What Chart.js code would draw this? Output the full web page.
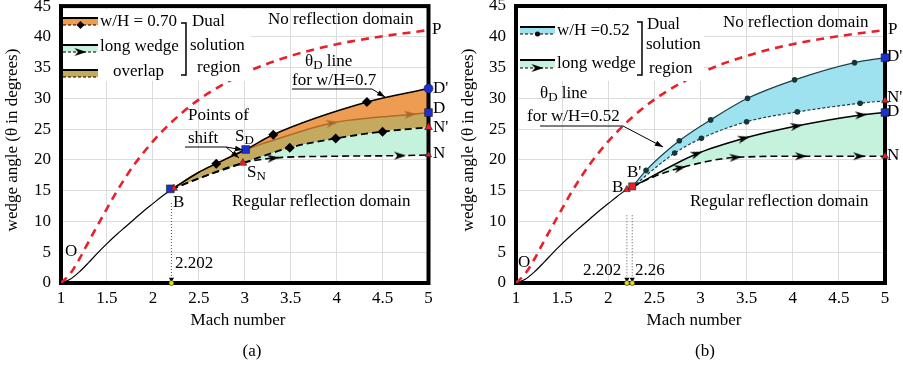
<!DOCTYPE html>
<html>
<head>
<meta charset="utf-8">
<script src="https://cdn.jsdelivr.net/npm/chart.js@4"></script>
<style>
  body { margin: 0; background: #fff; }
  #wrap { position: relative; width: 903px; height: 367px; }
  canvas { position: absolute; top: 0; }
</style>
</head>
<body>
<div id="wrap">
  <canvas id="chartA" width="451" height="367" style="left:0"></canvas>
  <canvas id="chartB" width="452" height="367" style="left:451px"></canvas>
</div>
<script>
// detachment line O-P and the O-B line, shared by both panels
const machDetach = [1.0, 1.1, 1.2, 1.3, 1.4, 1.5, 1.6, 1.7, 1.8, 2.0, 2.2, 2.5, 3.0, 3.5, 4.0, 4.5, 5.0];
const thetaDetach = [0, 1.5, 3.9, 6.7, 9.4, 12.1, 14.7, 17.1, 19.3, 23.0, 26.1, 29.8, 34.1, 36.9, 38.8, 40.1, 41.1];
const machSonic = [1.0, 1.1, 1.2, 1.3, 1.4, 1.5, 1.6, 1.7, 1.8, 1.9, 2.0, 2.1, 2.202];
const thetaSonic = [0, 0.6, 1.8, 3.3, 4.9, 6.4, 7.8, 9.1, 10.4, 11.7, 12.9, 14.1, 15.2];

// panel (a): w/H = 0.70 and long wedge
const machA_Dp = [2.202, 2.5, 2.69, 3.01, 3.31, 4.33, 5.0];
const thetaA_Dp = [15.2, 18.0, 19.4, 21.7, 24.1, 29.4, 31.6];
const machA_Np = [2.202, 2.5, 2.98, 3.49, 3.99, 4.5, 5.0];
const thetaA_Np = [15.2, 17.0, 19.5, 22.0, 23.5, 24.6, 25.3];
const machA_D = [2.202, 2.5, 2.69, 3.01, 3.31, 3.95, 4.5, 4.8, 5.0];
const thetaA_D = [15.2, 18.0, 19.4, 21.7, 23.2, 26.0, 27.0, 27.4, 27.7];
const machA_N = [2.202, 2.5, 2.98, 3.31, 4.0, 4.69, 5.0];
const thetaA_N = [15.2, 17.0, 19.5, 20.3, 20.6, 20.7, 20.8];
const marksA_mach = [2.19, 2.23, 3.01, 2.98, 5.0, 5.0, 5.0, 5.0, 2.202];
const marksA_theta = [15.3, 15.4, 21.7, 19.5, 31.6, 27.7, 25.3, 20.8, 0];
const dropA_theta = [13.0, 0.6];

// panel (b): w/H = 0.52 and long wedge
const machB_Dp = [2.26, 2.41, 2.77, 3.11, 3.51, 4.02, 4.67, 5.0];
const thetaB_Dp = [15.6, 18.3, 23.1, 26.5, 30.0, 33.0, 35.8, 36.6];
const machB_Np = [2.26, 2.72, 3.01, 3.5, 4.05, 4.73, 5.0];
const thetaB_Np = [15.6, 21.1, 23.5, 26.2, 27.8, 29.2, 29.6];
const machB_D = [2.26, 2.96, 3.47, 4.04, 4.74, 5.0];
const thetaB_D = [15.6, 21.0, 23.5, 25.5, 27.3, 27.7];
const machB_N = [2.26, 2.5, 2.78, 3.38, 4.09, 4.72, 5.0];
const thetaB_N = [15.6, 17.3, 18.7, 20.4, 20.6, 20.6, 20.6];
const machSonicB = machSonic.concat([2.26]);
const thetaSonicB = thetaSonic.concat([15.6]);
const marksB_mach = [2.202, 2.26, 5.0, 5.0, 5.0, 5.0, 2.202, 2.26];
const marksB_theta = [15.2, 15.7, 36.6, 29.6, 27.7, 20.6, 0, 0];
const dropB_theta = [11.0, 0.6];

const machTicks = [1, 1.5, 2, 2.5, 3, 3.5, 4, 4.5, 5];
const thetaTicks = [0, 5, 10, 15, 20, 25, 30, 35, 40, 45];

const serif = '"Liberation Serif", "Times New Roman", serif';
const RED = '#e8202a', BLUE = '#1b2fd6', YELLOW = '#e6dc1e';
const ORANGE = '#ee9c52', OLIVE = '#c3aa5e', GREEN = '#c4f2dd', CYAN = '#9de2ee';

function makeArrow(color) {
  const c = document.createElement('canvas');
  c.width = 14; c.height = 10;
  const g = c.getContext('2d');
  g.fillStyle = color;
  g.beginPath(); g.moveTo(1, 1); g.lineTo(13, 5); g.lineTo(1, 9); g.lineTo(4.5, 5); g.closePath(); g.fill();
  return c;
}
const arrowBlack = makeArrow('#000');
const arrowBrown = makeArrow('#a8682c');

function pts(xs, ys) { return xs.map((x, i) => ({ x: x, y: ys[i] })); }

function curve(xs, ys, opt) {
  return Object.assign({
    data: pts(xs, ys), borderColor: '#000', borderWidth: 1.5, fill: false,
    pointRadius: 0, pointBorderWidth: 0, pointBackgroundColor: '#000',
    cubicInterpolationMode: 'monotone'
  }, opt);
}

function drop(m, ys) {
  return {
    data: ys.map(y => ({ x: m, y: y })), borderColor: '#555', borderWidth: 1, borderDash: [1, 2],
    pointRadius: [0, 3], pointStyle: 'triangle', pointRotation: 180,
    pointBackgroundColor: '#000', pointBorderWidth: 0, fill: false
  };
}

function baseOptions(yWidth, rightPad) {
  const tickFont = { family: serif, size: 17 };
  return {
    responsive: false, animation: false, events: [],
    layout: { padding: { top: 6, right: rightPad, left: 0, bottom: 0 } },
    plugins: { legend: { display: false }, tooltip: { enabled: false }, filler: { drawTime: 'beforeDatasetsDraw' } },
    scales: {
      x: {
        type: 'linear', min: 1, max: 5,
        afterFit: s => { s.height = 84; s.paddingLeft = 0; s.paddingRight = 0; },
        afterBuildTicks: s => { s.ticks = machTicks.map(v => ({ value: v })); },
        ticks: { padding: 5, color: '#000', font: tickFont, callback: v => String(v) },
        grid: { color: '#dcdcdc', drawTicks: false }, border: { display: false }
      },
      y: {
        type: 'linear', min: 0, max: 45,
        afterFit: s => { s.width = yWidth; s.paddingTop = 0; s.paddingBottom = 0; },
        afterBuildTicks: s => { s.ticks = thetaTicks.map(v => ({ value: v })); },
        ticks: { padding: 10, color: '#000', font: tickFont, callback: v => String(v) },
        grid: { color: '#dcdcdc', drawTicks: false }, border: { display: false }
      }
    }
  };
}

function put(ctx, s, x, y, size, align) {
  ctx.font = (size || 17) + 'px ' + serif;
  ctx.textAlign = align || 'left';
  ctx.textBaseline = 'middle';
  ctx.fillStyle = '#000';
  ctx.fillText(s, x, y);
  return ctx.measureText(s).width;
}
function withSub(ctx, main, sub, x, y, rest) {
  const w = put(ctx, main, x, y, 17);
  const w2 = put(ctx, sub, x + w, y + 4, 13);
  if (rest) put(ctx, rest, x + w + w2, y, 17);
}
function seg(ctx, x0, y0, x1, y1, lw) {
  ctx.setLineDash([]); ctx.strokeStyle = '#000'; ctx.lineWidth = lw || 1;
  ctx.beginPath(); ctx.moveTo(x0, y0); ctx.lineTo(x1, y1); ctx.stroke();
}
function arrow(ctx, x0, y0, x1, y1) {
  seg(ctx, x0, y0, x1, y1, 1);
  const a = Math.atan2(y1 - y0, x1 - x0), L = 8, W = 2.8;
  ctx.fillStyle = '#000';
  ctx.beginPath(); ctx.moveTo(x1, y1);
  ctx.lineTo(x1 - L * Math.cos(a) + W * Math.sin(a), y1 - L * Math.sin(a) - W * Math.cos(a));
  ctx.lineTo(x1 - L * Math.cos(a) - W * Math.sin(a), y1 - L * Math.sin(a) + W * Math.cos(a));
  ctx.closePath(); ctx.fill();
}
function swatch(ctx, x, y, w, h, color, mark, dash) {
  ctx.fillStyle = color; ctx.fillRect(x, y, w, h);
  seg(ctx, x, y, x + w, y, 2);
  ctx.setLineDash(dash || [3, 2]); ctx.lineWidth = 1.2;
  ctx.beginPath(); ctx.moveTo(x, y + h); ctx.lineTo(x + w, y + h); ctx.stroke();
  ctx.setLineDash([]);
  const cx = x + w / 2, cy = y + h;
  ctx.fillStyle = '#000';
  if (mark === 'diamond') {
    ctx.beginPath(); ctx.moveTo(cx, cy - 4); ctx.lineTo(cx + 4, cy); ctx.lineTo(cx, cy + 4); ctx.lineTo(cx - 4, cy); ctx.closePath(); ctx.fill();
  } else if (mark === 'dot') {
    ctx.beginPath(); ctx.arc(cx, cy, 2.5, 0, Math.PI * 2); ctx.fill();
  } else if (mark === 'arrow') {
    ctx.drawImage(arrowBlack, cx - 7, cy - 5);
  }
}
function bracket(ctx, x0, x1, y0, y1) {
  ctx.setLineDash([]); ctx.strokeStyle = '#000'; ctx.lineWidth = 1.5;
  ctx.beginPath(); ctx.moveTo(x0, y0); ctx.lineTo(x1, y0); ctx.lineTo(x1, y1); ctx.lineTo(x0, y1); ctx.stroke();
}
function axisTitles(ctx, yx, mx, capx, cap) {
  ctx.save(); ctx.translate(yx, 140); ctx.rotate(-Math.PI / 2);
  put(ctx, 'wedge angle (\u03b8 in degrees)', 0, 0, 17, 'center');
  ctx.restore();
  put(ctx, 'Mach number', mx, 321, 17, 'center');
  put(ctx, cap, capx, 352, 17, 'center');
}

function decorA(ctx) {
  ctx.fillStyle = '#fff'; ctx.fillRect(63, 9, 188, 72);
  swatch(ctx, 63, 18, 35, 7, ORANGE, 'diamond');
  put(ctx, 'w/H = 0.70', 100, 22);
  swatch(ctx, 63, 45, 35, 7, GREEN, 'arrow');
  put(ctx, 'long wedge', 100, 47);
  swatch(ctx, 63, 70, 35, 7, OLIVE, null);
  put(ctx, 'overlap', 113, 72);
  bracket(ctx, 181, 186, 23, 75);
  put(ctx, 'Dual', 192, 22);
  put(ctx, 'solution', 190, 46);
  put(ctx, 'region', 197, 68);
  put(ctx, 'No reflection domain', 268, 20);
  put(ctx, 'P', 432, 30);
  withSub(ctx, '\u03b8', 'D', 305, 62, ' line');
  put(ctx, 'for w/H=0.7', 292, 81);
  seg(ctx, 292, 89, 372, 89, 1);
  arrow(ctx, 372, 89, 385, 97);
  put(ctx, 'Points of', 188, 116);
  put(ctx, 'shift', 188, 139);
  seg(ctx, 185, 147, 226, 147, 1);
  arrow(ctx, 226, 147, 243, 150);
  arrow(ctx, 226, 147, 239, 158);
  withSub(ctx, 'S', 'D', 235, 137);
  withSub(ctx, 'S', 'N', 247, 173);
  put(ctx, 'B', 173, 203);
  put(ctx, 'Regular reflection domain', 232, 202);
  put(ctx, 'O', 65, 252);
  put(ctx, '2.202', 175, 264);
  put(ctx, "D'", 433, 89);
  put(ctx, 'D', 433, 109);
  put(ctx, "N'", 433, 128);
  put(ctx, 'N', 433, 154);
  axisTitles(ctx, 13, 238, 252, '(a)');
}

function decorB(ctx) {
  ctx.fillStyle = '#fff'; ctx.fillRect(518, 9, 186, 72);
  swatch(ctx, 520, 27, 35, 7, CYAN, 'dot');
  put(ctx, 'w/H =0.52', 557, 31);
  swatch(ctx, 520, 60, 35, 8, GREEN, 'arrow');
  put(ctx, 'long wedge', 557, 64);
  bracket(ctx, 637, 642, 22, 75);
  put(ctx, 'Dual', 647, 25);
  put(ctx, 'solution', 646, 45);
  put(ctx, 'region', 649, 69);
  put(ctx, 'No reflection domain', 723, 23);
  put(ctx, 'P', 888, 30);
  withSub(ctx, '\u03b8', 'D', 540, 94, ' line');
  put(ctx, 'for w/H=0.52', 527, 117);
  seg(ctx, 540, 126, 623, 126, 1);
  arrow(ctx, 623, 126, 663, 147);
  put(ctx, "B'", 627, 173);
  put(ctx, 'B', 612, 188);
  put(ctx, 'Regular reflection domain', 690, 202);
  put(ctx, 'O', 518, 263);
  put(ctx, '2.202', 583, 271);
  put(ctx, '2.26', 635, 271);
  put(ctx, "D'", 887, 57);
  put(ctx, "N'", 887, 98);
  put(ctx, 'D', 887, 112);
  put(ctx, 'N', 887, 156);
  axisTitles(ctx, 469, 694, 705, '(b)');
}

function decorPlugin(fn, off) {
  return {
    id: 'decor' + off,
    beforeDatasetsDraw(chart) {
      const a = chart.chartArea, ctx = chart.ctx;
      ctx.save(); ctx.setLineDash([]); ctx.strokeStyle = '#000'; ctx.lineWidth = 4;
      ctx.strokeRect(a.left, a.top, a.right - a.left, a.bottom - a.top);
      ctx.restore();
    },
    afterDatasetsDraw(chart) {
      const ctx = chart.ctx;
      ctx.save(); ctx.translate(-off, 0); fn(ctx, chart); ctx.restore();
    }
  };
}

function marks(xs, ys, styles, colors, radii) {
  return {
    data: pts(xs, ys), showLine: false, clip: false,
    pointStyle: styles, pointBackgroundColor: colors, pointRadius: radii,
    pointBorderColor: '#202020', pointBorderWidth: 0.6
  };
}

new Chart(document.getElementById('chartA'), {
  type: 'line',
  data: {
    datasets: [
      marks(marksA_mach, marksA_theta,
        ['rect', 'triangle', 'rect', 'triangle', 'circle', 'rect', 'triangle', 'triangle', 'circle'],
        [BLUE, RED, BLUE, RED, BLUE, BLUE, RED, RED, YELLOW],
        [5.5, 4, 5.5, 4.5, 4.5, 5.5, 4.5, 3.5, 2.5]),
      drop(2.202, dropA_theta),
      curve(machA_Dp, thetaA_Dp, { fill: 4, backgroundColor: ORANGE,
        pointStyle: 'rectRot', pointRadius: [0, 0, 5, 0, 5, 5, 0] }),
      curve(machA_Np, thetaA_Np, { fill: 5, backgroundColor: GREEN, borderDash: [7, 4], borderWidth: 1.8,
        pointStyle: 'rectRot', pointRadius: [0, 0, 0, 5, 5, 5, 0] }),
      curve(machA_D, thetaA_D, { fill: 3, backgroundColor: OLIVE, borderColor: '#b06a2a',
        pointStyle: arrowBrown, pointRadius: [0, 0, 0, 0, 0, 6, 0, 6, 0], pointRotation: [0, 0, 0, 0, 0, -10, 0, -4, 0] }),
      curve(machA_N, thetaA_N, { borderDash: [7, 4], borderWidth: 1.6,
        pointStyle: arrowBlack, pointRadius: [0, 0, 0, 6, 0, 6, 0], pointRotation: [0, 0, 0, -7, 0, 0, 0] }),
      curve(machDetach, thetaDetach, { borderColor: RED, borderWidth: 2.6, borderDash: [8, 6] }),
      curve(machSonic, thetaSonic, { borderWidth: 1.2 })
    ]
  },
  options: baseOptions(61, 22.5),
  plugins: [decorPlugin(decorA, 0)]
});

new Chart(document.getElementById('chartB'), {
  type: 'line',
  data: {
    datasets: [
      marks(marksB_mach, marksB_theta,
        ['triangle', 'rect', 'rect', 'triangle', 'rect', 'triangle', 'circle', 'circle'],
        [RED, RED, BLUE, RED, BLUE, RED, YELLOW, YELLOW],
        [4, 5, 5.5, 4, 5.5, 4, 2.5, 2.5]),
      drop(2.202, dropB_theta),
      drop(2.26, dropB_theta),
      curve(machB_Dp, thetaB_Dp, { fill: 4, backgroundColor: CYAN, borderColor: '#1d3f44', borderWidth: 1.2,
        pointStyle: 'circle', pointBackgroundColor: '#163638', pointRadius: [0, 2.8, 2.8, 2.8, 2.8, 2.8, 2.8, 0] }),
      curve(machB_Np, thetaB_Np, { borderColor: '#1d3f44', borderWidth: 1.2, borderDash: [3, 2],
        pointStyle: 'circle', pointBackgroundColor: '#163638', pointRadius: [0, 2.8, 2.8, 2.8, 2.8, 2.8, 0] }),
      curve(machB_D, thetaB_D, { fill: 6, backgroundColor: GREEN,
        pointStyle: arrowBlack, pointRadius: [0, 6, 6, 6, 6, 0], pointRotation: [0, -20, -14, -10, -5, 0] }),
      curve(machB_N, thetaB_N, { borderDash: [7, 4], borderWidth: 1.6,
        pointStyle: arrowBlack, pointRadius: [0, 0, 6, 6, 6, 6, 0], pointRotation: [0, 0, -12, -4, 0, 0, 0] }),
      curve(machDetach, thetaDetach, { borderColor: RED, borderWidth: 2.6, borderDash: [8, 6] }),
      curve(machSonicB, thetaSonicB, { borderWidth: 1.2 })
    ]
  },
  options: baseOptions(65, 18),
  plugins: [decorPlugin(decorB, 451)]
});
</script>
</body>
</html>
